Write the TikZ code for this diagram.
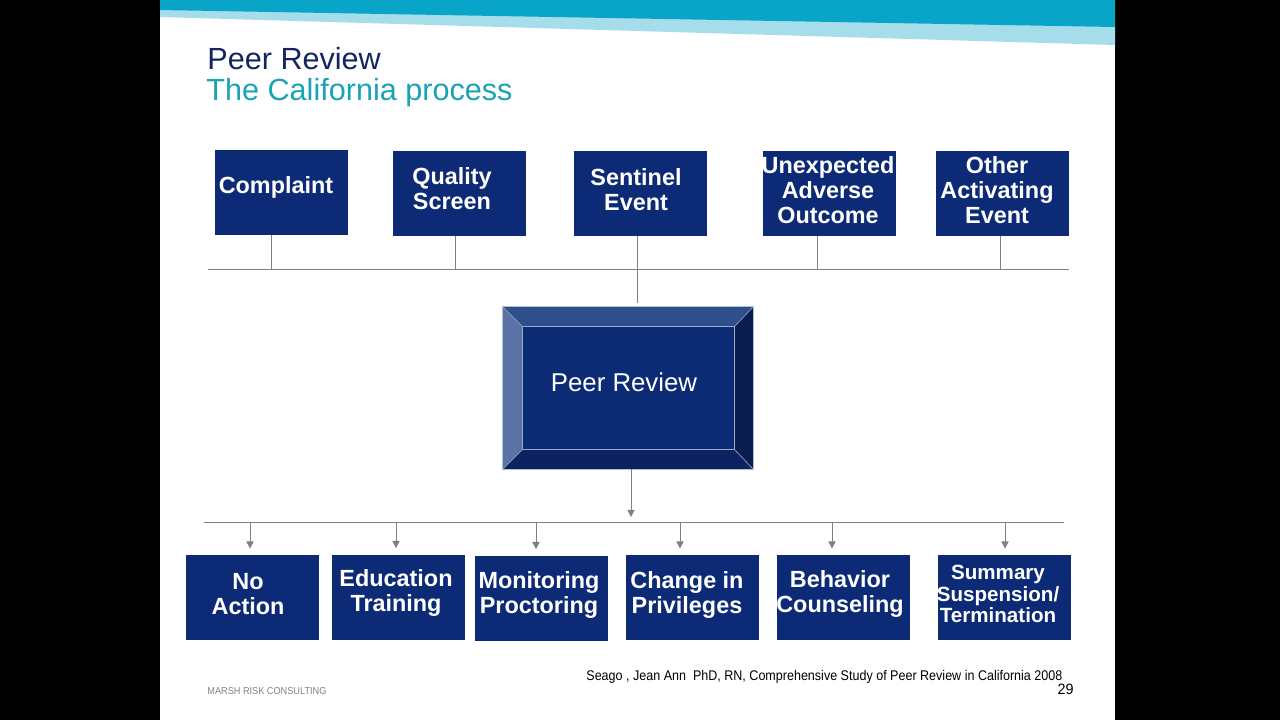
\documentclass[tikz,border=0pt]{standalone}
\usepackage{fontspec}
\setmainfont{Liberation Sans}
\usetikzlibrary{arrows.meta,calc}
\definecolor{navy}{RGB}{12,42,118}
\definecolor{titlenavy}{RGB}{20,36,96}
\definecolor{titleteal}{RGB}{26,163,180}
\definecolor{bandDark}{RGB}{8,165,200}
\definecolor{bandLight}{RGB}{166,221,235}
\definecolor{prInner}{RGB}{11,44,116}
\definecolor{prTop}{RGB}{46,78,140}
\definecolor{prLeft}{RGB}{91,114,165}
\definecolor{prRight}{RGB}{10,29,79}
\definecolor{prBottom}{RGB}{11,36,96}
\definecolor{lineGray}{RGB}{128,128,128}
\definecolor{footGray}{RGB}{130,130,130}
\begin{document}
\begin{tikzpicture}[x=0.5pt,y=-0.5pt,
  box/.style={fill=navy, minimum width=66.5pt, minimum height=42.5pt, inner sep=0pt},
  boxtext/.style={text=white, font=\fontsize{11.7}{12.5}\selectfont\bfseries, align=center, inner sep=0pt},
  conn/.style={draw=lineGray, line width=0.5pt},
  arr/.style={conn, -{Triangle[width=3.6pt,length=3.6pt]}, shorten >=3pt}]
\useasboundingbox (0,0) rectangle (1280,720);
\fill[black] (0,0) rectangle (1280,720);
\fill[white] (160,0) rectangle (1115,720);
% banner
\fill[bandLight] (160,9) -- (1115,26) -- (1115,45) -- (160,17) -- cycle;
\fill[bandDark] (160,0) -- (1115,0) -- (1115,27) -- (160,10) -- cycle;
% title
\node[anchor=base west, inner sep=0pt, text=titlenavy, font=\fontsize{15.3}{16}\selectfont] (t1) at (207,69) {Peer Review};
\node[anchor=base west, inner sep=0pt, text=titleteal, font=\fontsize{15.3}{16}\selectfont] (t2) at (206,100) {The California process};
% top boxes
\node[box] (complaint) at (281.5,192.5) {};
\node[box] (quality) at (459.5,193) {};
\node[box] (sentinel) at (640.5,193.5) {};
\node[box] (unexpected) at (829.5,193.5) {};
\node[box] (other) at (1002.5,193.5) {};
\node[boxtext] (complaintT) at (276,187) {Complaint};
\node[boxtext] (qualityT) at (452,189) {Quality\\Screen};
\node[boxtext] (sentinelT) at (636,190) {Sentinel\\Event};
\node[boxtext] (unexpectedT) at (828,190) {Unexpected\\Adverse\\Outcome};
\node[boxtext] (otherT) at (997,190) {Other\\Activating\\Event};
% top bus
\coordinate (busTa) at (208,269);
\coordinate (busTb) at (1069,269);
\draw[conn] (busTa) -- (busTb);
% peer review box
\node[fill=prInner, minimum width=125pt, minimum height=81pt, inner sep=0pt] (pr) at (628,388) {};
\coordinate (inw) at ($(pr.north west)+(20,20)$);
\coordinate (ine) at ($(pr.north east)+(-19,20)$);
\coordinate (ise) at ($(pr.south east)+(-19,-20)$);
\coordinate (isw) at ($(pr.south west)+(20,-20)$);
\fill[prTop] (pr.north west) -- (pr.north east) -- (ine) -- (inw) -- cycle;
\fill[prLeft] (pr.north west) -- (inw) -- (isw) -- (pr.south west) -- cycle;
\fill[prRight] (pr.north east) -- (pr.south east) -- (ise) -- (ine) -- cycle;
\fill[prBottom] (pr.south west) -- (isw) -- (ise) -- (pr.south east) -- cycle;
\draw[white!70!prInner, line width=0.3pt] (pr.north west) rectangle (pr.south east);
\draw[white!60!prInner, line width=0.3pt] (inw) rectangle (ise);
\draw[white!60!prInner, line width=0.3pt] (pr.north west) -- (inw) (pr.north east) -- (ine) (pr.south east) -- (ise) (pr.south west) -- (isw);
\node[text=white, inner sep=0pt, font=\fontsize{12.9}{14}\selectfont] (prT) at (624,382) {Peer Review};
% top connectors
\draw[conn] ($(complaint.south)+(-10.5,0)$) coordinate (c1) -- (c1 |- busTa);
\draw[conn] ($(quality.south)+(-4.5,0)$) coordinate (c2) -- (c2 |- busTa);
\draw[conn] ($(sentinel.south)+(-3.5,0)$) coordinate (c3) -- ($(c3 |- pr.north)+(0,-4)$);
\draw[conn] ($(unexpected.south)+(-12.5,0)$) coordinate (c4) -- (c4 |- busTa);
\draw[conn] ($(other.south)+(-2.5,0)$) coordinate (c5) -- (c5 |- busTa);
% bottom bus
\coordinate (busBa) at (204,522);
\coordinate (busBb) at (1064,522);
\draw[conn] (busBa) -- (busBb);
\path ($(pr.south)+(3,0)$) coordinate (p0);
\draw[arr, shorten >=2.5pt] (p0) -- (p0 |- busBa);
% bottom boxes
\node[box] (noaction) at (252.5,597.5) {};
\node[box] (education) at (398.5,597) {};
\node[box] (monitoring) at (541.5,598) {};
\node[box] (change) at (692.5,597.5) {};
\node[box] (behavior) at (843.5,597.5) {};
\node[box] (summary) at (1004.5,597.5) {};
\node[boxtext] (noactionT) at (248,594) {No\\Action};
\node[boxtext] (educationT) at (396,593) {Education\\Training};
\node[boxtext] (monitoringT) at (539,595) {Monitoring\\Proctoring};
\node[boxtext] (changeT) at (687,595) {Change in\\Privileges};
\node[boxtext] (behaviorT) at (840,594) {Behavior\\Counseling};
\node[boxtext, font=\fontsize{10.3}{10.8}\selectfont\bfseries] (summaryT) at (998,594) {Summary\\Suspension/\\Termination};
% bottom arrows
\path ($(noaction.north)+(-2.5,0)$) coordinate (a1);
\path ($(education.north)+(-2.5,0)$) coordinate (a2);
\path ($(monitoring.north)+(-5.5,0)$) coordinate (a3);
\path ($(change.north)+(-12.5,0)$) coordinate (a4);
\path ($(behavior.north)+(-11.5,0)$) coordinate (a5);
\path ($(summary.north)+(0.5,0)$) coordinate (a6);
\foreach \a in {a1,a2,a3,a4,a5,a6} \draw[arr] (\a |- busBa) -- (\a);
% footer
\node[anchor=base west, inner sep=0pt, font=\fontsize{7}{8}\selectfont] (cite) at (586,680) {\resizebox{238pt}{\height}{Seago , Jean Ann\ \ PhD, RN, Comprehensive Study of Peer Review in California 2008}};
\node[anchor=base east, inner sep=0pt, font=\fontsize{7.5}{8}\selectfont] (page) at (1074,694) {\resizebox{8pt}{\height}{29}};
\node[anchor=base west, inner sep=0pt, text=footGray, font=\fontsize{5}{6}\selectfont] (marsh) at (207,694) {\resizebox{59.5pt}{\height}{MARSH RISK CONSULTING}};
\end{tikzpicture}
\end{document}
